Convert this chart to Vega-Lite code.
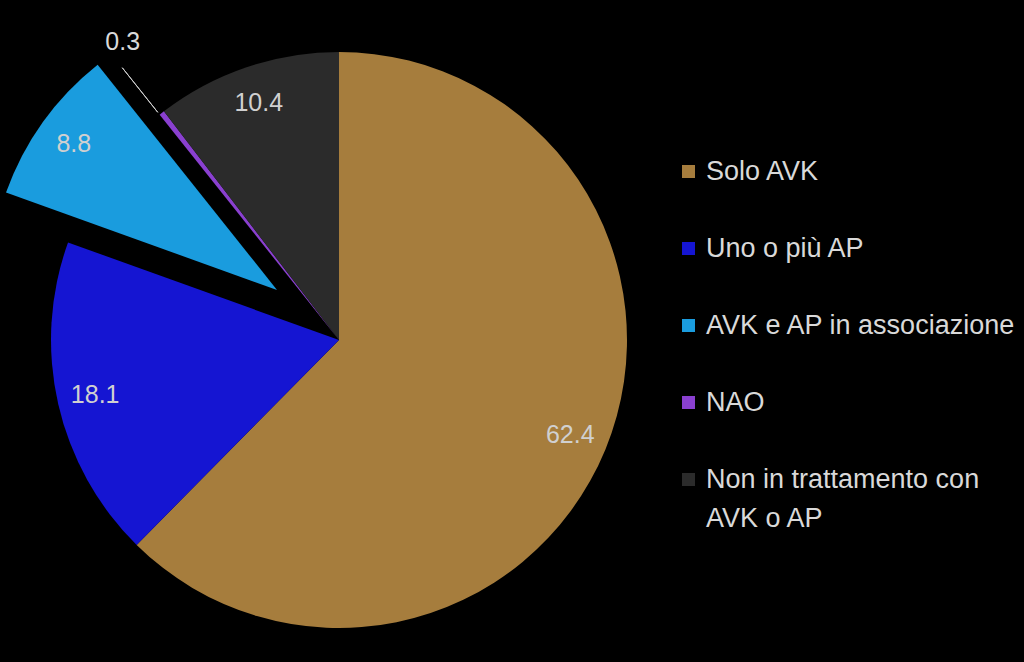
{
  "$schema": "https://vega.github.io/schema/vega-lite/v6.json",
  "width": 678,
  "height": 644,
  "padding": {"left": 0, "top": 18, "right": 346, "bottom": 0},
  "autosize": {"type": "none"},
  "background": "black",
  "config": {
    "view": {"stroke": null},
    "font": "Liberation Sans",
    "style": {"guide-label": {"lineHeight": 39, "fontSize": 27, "font": "Liberation Sans", "fill": "#D9D9D9"}}
  },
  "data": {
    "values": [
      {"cat": "Solo AVK", "value": 62.4, "order": 1},
      {"cat": "Uno o più AP", "value": 18.1, "order": 2},
      {"cat": "AVK e AP in associazione", "value": 8.8, "order": 3},
      {"cat": "NAO", "value": 0.3, "order": 4},
      {"cat": "Non in trattamento con AVK o AP", "value": 10.4, "order": 5}
    ]
  },
  "layer": [
    {
      "transform": [
        {"stack": "value", "groupby": [], "sort": [{"field": "order", "order": "ascending"}], "as": ["t0", "t1"]},
        {"filter": "datum.cat != 'AVK e AP in associazione'"}
      ],
      "mark": {"type": "arc", "radius": 288, "stroke": null},
      "encoding": {
        "theta": {"field": "t0", "type": "quantitative", "scale": {"domain": [0, 100]}},
        "theta2": {"field": "t1"},
        "color": {
          "field": "cat",
          "type": "nominal",
          "sort": null,
          "scale": {
            "domain": ["Solo AVK", "Uno o più AP", "AVK e AP in associazione", "NAO", "Non in trattamento con AVK o AP"],
            "range": ["#A67D3D", "#1515D2", "#1A9CDE", "#8A40D0", "#2B2B2B"]
          },
          "legend": {
            "title": null,
            "orient": "none",
            "legendX": 675,
            "legendY": 140,
            "padding": 0,
            "symbolType": "square",
            "symbolSize": 169,
            "symbolStrokeWidth": 0,
            "labelFont": "Liberation Sans",
            "labelFontSize": 27,
            "labelColor": "#D9D9D9",
            "labelOffset": 4,
            "labelLimit": 400,
            "rowPadding": 49,
            "labelExpr": "datum.label == 'Non in trattamento con AVK o AP' ? ['Non in trattamento con', 'AVK o AP'] : datum.label"
          }
        }
      }
    },
    {
      "transform": [
        {"stack": "value", "groupby": [], "sort": [{"field": "order", "order": "ascending"}], "as": ["t0", "t1"]},
        {"filter": "datum.cat == 'AVK e AP in associazione'"}
      ],
      "mark": {"type": "arc", "radius": 288, "xOffset": -62, "yOffset": -50, "stroke": null},
      "encoding": {
        "theta": {"field": "t0", "type": "quantitative"},
        "theta2": {"field": "t1"},
        "color": {"field": "cat", "type": "nominal", "sort": null}
      }
    },
    {
      "transform": [
        {"stack": "value", "groupby": [], "sort": [{"field": "order", "order": "ascending"}], "as": ["t0", "t1"]},
        {"filter": "datum.cat == 'NAO'"}
      ],
      "mark": {"type": "arc", "radius": 348, "radius2": 291, "stroke": "#CFCFCF", "strokeWidth": 1, "fillOpacity": 0},
      "encoding": {
        "theta": {"field": "t0", "type": "quantitative"},
        "theta2": {"field": "t0"}
      }
    },
    {
      "mark": {"type": "text", "radius": 250, "fontSize": 25, "color": "#D0D0D0", "font": "Liberation Sans"},
      "encoding": {
        "theta": {"field": "value", "type": "quantitative", "stack": true},
        "order": {"field": "order"},
        "detail": {"field": "cat"},
        "text": {
          "condition": {"test": "datum.cat == 'Solo AVK' || datum.cat == 'Uno o più AP' || datum.cat == 'Non in trattamento con AVK o AP'", "field": "value", "type": "quantitative", "format": ".1f"},
          "value": ""
        }
      }
    },
    {
      "mark": {"type": "text", "radius": 250, "fontSize": 25, "color": "#D0D0D0", "font": "Liberation Sans", "xOffset": -62, "yOffset": -50},
      "encoding": {
        "theta": {"field": "value", "type": "quantitative", "stack": true},
        "order": {"field": "order"},
        "detail": {"field": "cat"},
        "text": {
          "condition": {"test": "datum.cat == 'AVK e AP in associazione'", "field": "value", "type": "quantitative", "format": ".1f"},
          "value": ""
        }
      }
    },
    {
      "mark": {"type": "text", "radius": 150, "fontSize": 25, "color": "#D9D9D9", "font": "Liberation Sans", "xOffset": -124, "yOffset": -180},
      "encoding": {
        "theta": {"field": "value", "type": "quantitative", "stack": true},
        "order": {"field": "order"},
        "detail": {"field": "cat"},
        "text": {
          "condition": {"test": "datum.cat == 'NAO'", "field": "value", "type": "quantitative", "format": ".1f"},
          "value": ""
        }
      }
    }
  ]
}
